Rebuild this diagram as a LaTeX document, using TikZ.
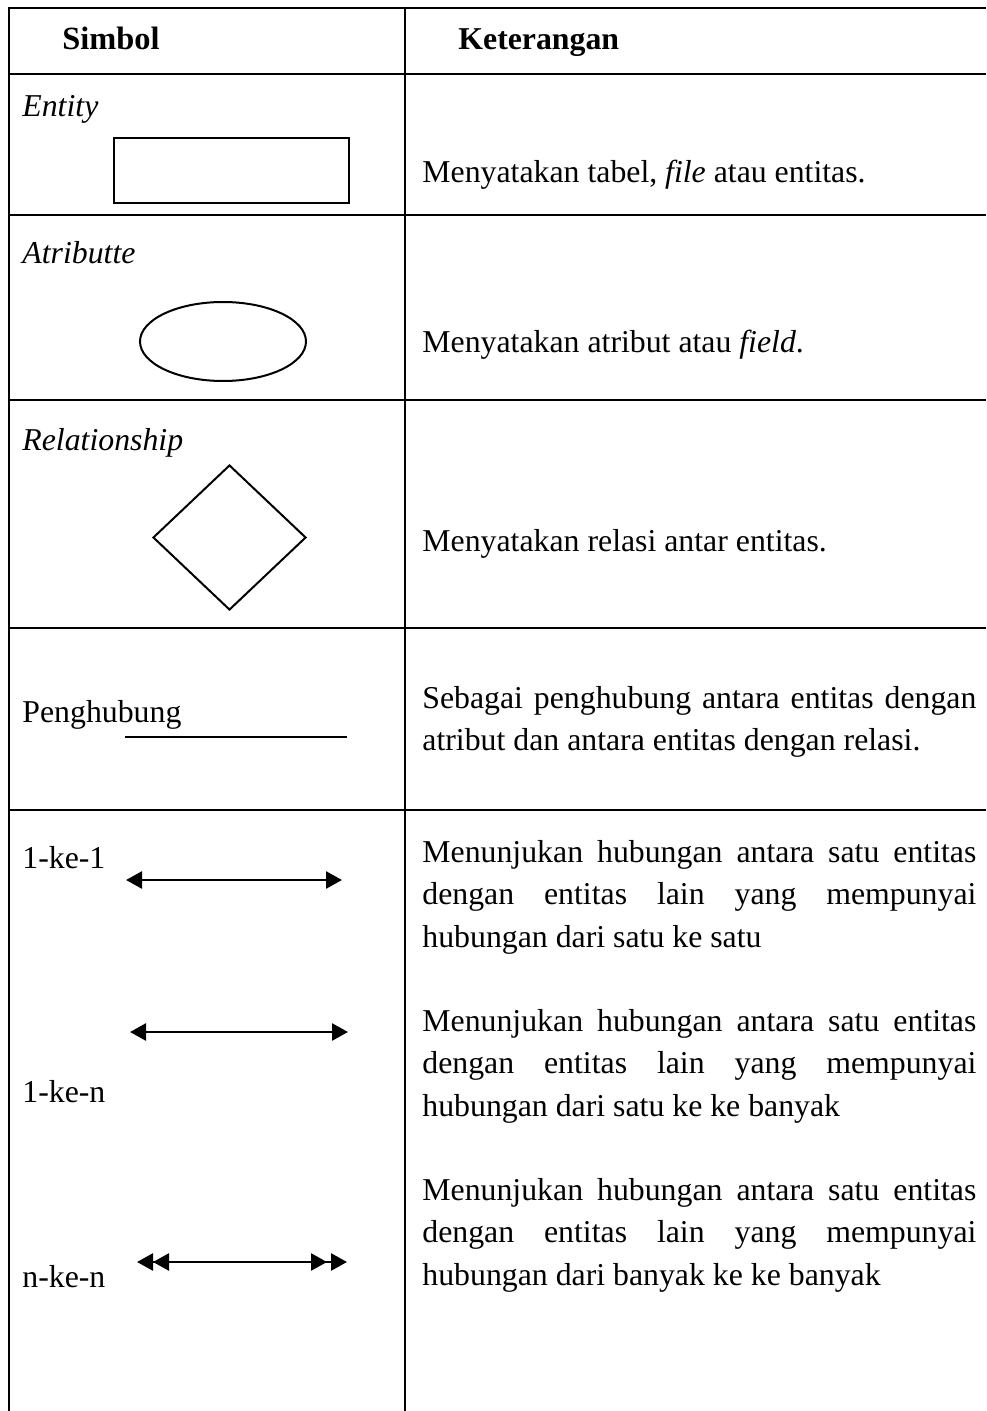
\documentclass[tikz,border=0pt]{standalone}
\usepackage{fontspec}
\setmainfont{Liberation Serif}
\usetikzlibrary{shapes.geometric,arrows.meta}
\tikzset{
  gridline/.style={line width=1.4pt},
  txt/.style={anchor=base west,inner sep=0pt,font=\fontsize{15.9}{21.25}\selectfont},
  desc/.style={txt,text width=277pt,align=justify},
  sym/.style={draw,line width=1pt,inner sep=0pt},
  onearrow/.style={line width=1.3pt,{Triangle[length=8pt,width=8.5pt]}-{Triangle[length=8pt,width=8.5pt]}},
  manyarrow/.style={line width=1.3pt,{Triangle[length=8pt,width=8.5pt,sep=2pt]Triangle[length=8pt,width=8.5pt]}-{Triangle[length=8pt,width=8.5pt,sep=2pt]Triangle[length=8pt,width=8.5pt]}}
}
\begin{document}
\begin{tikzpicture}[x=0.5pt,y=-0.5pt]
  \useasboundingbox (0,0) rectangle (986,1411);
  \draw[gridline] (9,1411) -- (9,8) -- (986,8);
  \draw[gridline] (405,8) -- (405,1411);
  \foreach \y in {74,215,400,628,810}
    \draw[gridline] (9,\y) -- (986,\y);

  \node[txt,font=\fontsize{16.2}{21.25}\selectfont\bfseries] (hsimbol) at (62,50) {Simbol};
  \node[txt,font=\fontsize{15.9}{21.25}\selectfont\bfseries] (hket) at (458,50) {Keterangan};

  \node[txt] (lentity) at (22,117) {\textit{Entity}};
  \node[sym,minimum width=117.5pt,minimum height=32.5pt] (entity) at (231.5,170.5) {};
  \node[desc] (dentity) at (422,183) {Menyatakan tabel, \textit{file} atau entitas.};

  \node[txt] (lattr) at (22,264) {\textit{Atributte}};
  \node[sym,ellipse,minimum width=83pt,minimum height=39.5pt] (attr) at (223,341.5) {};
  \node[desc] (dattr) at (422,353) {Menyatakan atribut atau \textit{field}.};

  \node[txt] (lrel) at (22,451) {\textit{Relationship}};
  \node[sym,diamond,minimum width=76.5pt,minimum height=72.5pt] (rel) at (229.5,537.5) {};
  \node[desc] (drel) at (422,551) {Menyatakan relasi antar entitas.};

  \node[txt] (lpeng) at (22,722) {Penghubung};
  \coordinate (pengl) at (125,737);
  \coordinate (pengr) at (347,737);
  \draw[line width=1pt] (pengl) -- (pengr);
  \node[desc] (dpeng) at (422,708) {Sebagai penghubung antara entitas dengan\linebreak atribut dan antara entitas dengan relasi.};

  \node[txt] (lsatu) at (22,868) {1-ke-1};
  \coordinate (satul) at (126,880);
  \coordinate (satur) at (342,880);
  \draw[onearrow] (satul) -- (satur);
  \node[desc] (dsatu) at (422,862) {Menunjukan hubungan antara satu entitas\linebreak dengan entitas lain yang mempunyai\linebreak hubungan dari satu ke satu};

  \node[txt] (lsatun) at (22,1102) {1-ke-n};
  \coordinate (satunl) at (130,1032);
  \coordinate (satunr) at (348,1032);
  \draw[onearrow] (satunl) -- (satunr);
  \node[desc] (dsatun) at (422,1031) {Menunjukan hubungan antara satu entitas\linebreak dengan entitas lain yang mempunyai\linebreak hubungan dari satu ke ke banyak};

  \node[txt] (lnn) at (22,1287) {n-ke-n};
  \coordinate (nnl) at (133,1262);
  \coordinate (nnr) at (347,1262);
  \draw[manyarrow] (nnl) -- (nnr);
  \node[desc] (dnn) at (422,1200) {Menunjukan hubungan antara satu entitas\linebreak dengan entitas lain yang mempunyai\linebreak hubungan dari banyak ke ke banyak};
\end{tikzpicture}
\end{document}
